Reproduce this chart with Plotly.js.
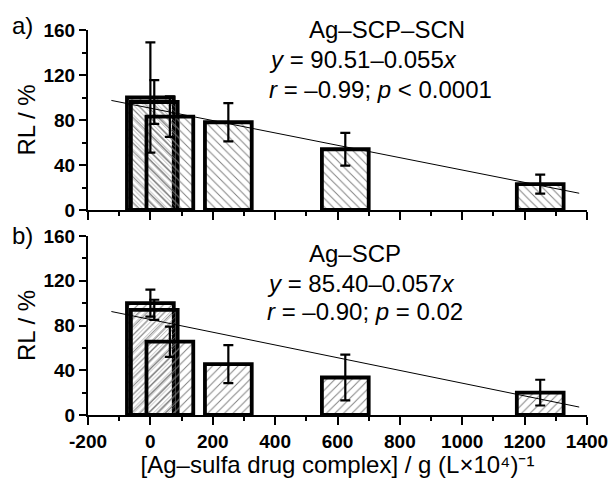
<!DOCTYPE html>
<html>
<head>
<meta charset="utf-8">
<script src="https://cdn.plot.ly/plotly-3.0.1.min.js"></script>
<style>html,body{margin:0;padding:0;background:#fff;}#chart{width:612px;height:478px;}</style>
</head>
<body>
<div id="chart"></div>
<script>
// ---- data ----
const concentrations = [0, 12.5, 62.5, 250, 625, 1250];
const barWidths = [150, 150, 150, 150, 150, 150];

// panel a) Ag–SCP–SCN
const rlSCN = [100, 96, 83, 78, 54, 23];
const errSCN = [49, 19.5, 18, 17, 14.5, 8.5];
const fitXSCN = [-125, 1375];
const fitYSCN = [97.4, 14.9];

// panel b) Ag–SCP
const rlSCP = [100, 94, 65.5, 45.5, 33.5, 20];
const errSCP = [12, 9, 13.5, 17, 20.5, 11.5];
const fitXSCP = [-125, 1375];
const fitYSCP = [92.5, 7.1];

const xTickVals = [-200, 0, 200, 400, 600, 800, 1000, 1200, 1400];
const xTickText = ['-200', '0', '200', '400', '600', '800', '1000', '1200', '1400'];
const yTickVals = [0, 40, 80, 120, 160];
const yTickText = ['0', '40', '80', '120', '160'];

// ---- layout helpers (pixel -> paper) ----
const W = 612, H = 478, ML = 88, MR = 25, MT = 30, MB = 63;
const PW = W - ML - MR, PH = H - MT - MB;
const px = v => (v - ML) / PW;
const py = v => (H - MB - v) / PH;

const FONT = 'Liberation Sans, Arial, sans-serif';
const bold = arr => arr.map(t => '<b>' + t + '</b>');

function barTrace(y, err, shape, xa, ya, sizes) {
  return {
    type: 'bar', x: concentrations, y: y, width: barWidths,
    xaxis: xa, yaxis: ya,
    marker: {
      color: 'rgba(255,255,255,0)',
      line: {color: '#000', width: 3.8},
      pattern: {shape: shape, fgcolor: '#808080', bgcolor: 'rgba(255,255,255,0)', size: sizes, solidity: 0.16, fillmode: 'replace'}
    },
    error_y: {type: 'data', array: err, visible: true, color: '#000', thickness: 2.2, width: 5},
    showlegend: false, hoverinfo: 'skip'
  };
}
function fitTrace(x, y, xa, ya) {
  return {type: 'scatter', mode: 'lines', x: x, y: y, xaxis: xa, yaxis: ya,
    line: {color: '#000', width: 1}, showlegend: false, hoverinfo: 'skip'};
}

const data = [
  barTrace(rlSCN, errSCN, '\\', 'x2', 'y2', [6, 3.5, 6, 6, 6, 6]),
  fitTrace(fitXSCN, fitYSCN, 'x2', 'y2'),
  barTrace(rlSCP, errSCP, '/', 'x', 'y', [6, 3.5, 6, 6, 6, 6]),
  fitTrace(fitXSCP, fitYSCP, 'x', 'y')
];

const axCommon = {
  showline: true, linecolor: '#000', linewidth: 2, mirror: false,
  ticks: 'outside', tickcolor: '#000', tickwidth: 2,
  showgrid: false, zeroline: false, fixedrange: true
};
const tickFont = {family: FONT, size: 19, color: '#000'};
const xCommon = Object.assign({}, axCommon, {
  range: [-200, 1400], tickmode: 'array', tickvals: xTickVals, ticktext: bold(xTickText), ticklen: 8,
  minor: {dtick: 100, tick0: 0, ticklen: 4, tickcolor: '#000', tickwidth: 2, ticks: 'outside', showgrid: false},
  tickfont: tickFont
});
const yCommon = Object.assign({}, axCommon, {
  range: [0, 160], tickmode: 'array', tickvals: yTickVals, ticktext: bold(yTickText), ticklen: 7,
  minor: {dtick: 20, tick0: 0, ticklen: 4, tickcolor: '#000', tickwidth: 2, ticks: 'outside', showgrid: false},
  tickfont: tickFont,
  title: {text: 'RL / %', font: {family: FONT, size: 24, color: '#000'}, standoff: 1}
});

const annFont = {family: FONT, size: 24, color: '#000'};
function ann(text, xPix, yPix) {
  return {text: text, xref: 'paper', yref: 'paper', x: px(xPix), y: py(yPix),
    xanchor: 'left', yanchor: 'middle', showarrow: false, font: annFont};
}

const layout = {
  width: W, height: H,
  margin: {l: ML, r: MR, t: MT, b: MB},
  paper_bgcolor: '#fff', plot_bgcolor: '#fff',
  barmode: 'overlay',
  font: {family: FONT, color: '#000'},
  xaxis: Object.assign({}, xCommon, {anchor: 'y',
    title: {text: '[Ag–sulfa drug complex] / g (L×10⁴)⁻¹', font: {family: FONT, size: 24, color: '#000'}, standoff: 0}}),
  xaxis2: Object.assign({}, xCommon, {anchor: 'y2', matches: 'x', showticklabels: false}),
  yaxis: Object.assign({}, yCommon, {domain: [0, py(236)], anchor: 'x'}),
  yaxis2: Object.assign({}, yCommon, {domain: [py(210), 1], anchor: 'x2'}),
  annotations: [
    ann('a)', 10, 25),
    ann('Ag–SCP–SCN', 307, 29),
    ann('<i>y</i> = 90.51–0.055<i>x</i>', 267, 59.5),
    ann('<i>r</i> = –0.99; <i>p</i> &lt; 0.0001', 267, 89.5),
    ann('b)', 10, 236),
    ann('Ag–SCP', 307, 253.5),
    ann('<i>y</i> = 85.40–0.057<i>x</i>', 265, 283.5),
    ann('<i>r</i> = –0.90; <i>p</i> = 0.02', 265, 311.5)
  ]
};

Plotly.newPlot('chart', data, layout, {staticPlot: true, displayModeBar: false});
</script>
</body>
</html>
